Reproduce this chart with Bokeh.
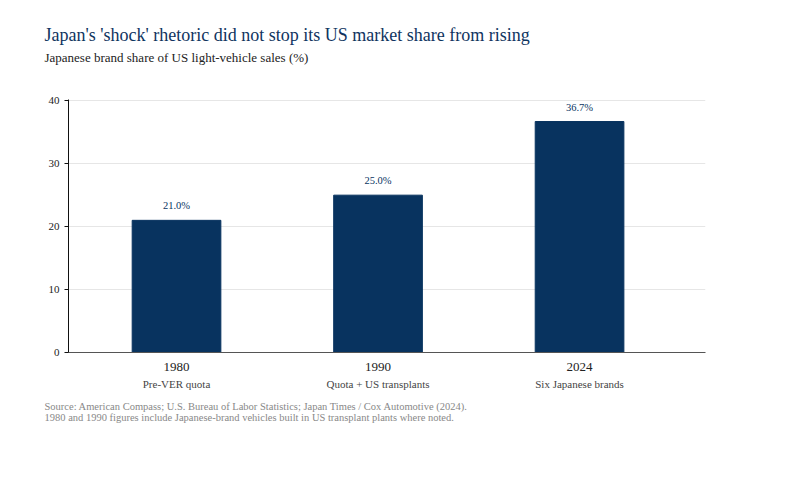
from bokeh.plotting import figure
from bokeh.models import (ColumnDataSource, LabelSet, Title, Range1d, FixedTicker,
                          LinearAxis)
from bokeh.embed import file_html
from bokeh.resources import INLINE

# данные
years = ["1980", "1990", "2024"]
notes = ["Pre-VER quota", "Quota + US transplants", "Six Japanese brands"]
share = [21.0, 25.0, 36.7]
y_ticks = [0, 10, 20, 30, 40]

font = "Liberation Serif"
navy = "#08335f"

idx = list(range(len(years)))
source = ColumnDataSource(data=dict(
    x=idx,
    share=share,
    label=["{:.1f}%".format(v) for v in share],
))

p = figure(title=None, frame_width=637, frame_height=253, x_range=Range1d(-0.536, 2.625),
           y_range=Range1d(0, 40.2), output_backend="svg", toolbar_location=None,
           tools="", min_border_left=68, min_border_right=79, min_border_bottom=20)

# столбцы
p.vbar(x="x", top="share", width=0.44, source=source, color=navy)

# подписи значений
labels = LabelSet(x="x", y="share", text="label", source=source, y_offset=9,
                  text_align="center", text_baseline="bottom",
                  text_font=font, text_font_size="10.5px", text_color=navy)
p.add_layout(labels)

# оси
p.xaxis.ticker = FixedTicker(ticks=idx)
p.xaxis.major_label_overrides = {i: y for i, y in zip(idx, years)}
p.xaxis.major_tick_line_color = None
p.xaxis.minor_tick_line_color = None
p.xaxis.axis_line_color = "#555555"
p.xaxis.major_label_text_font = font
p.xaxis.major_label_text_font_size = "13px"
p.xaxis.major_label_text_color = "#222222"
p.xaxis.major_label_standoff = 4

note_axis = LinearAxis(ticker=FixedTicker(ticks=idx),
                       major_label_overrides={i: n for i, n in zip(idx, notes)})
note_axis.axis_line_color = None
note_axis.major_tick_line_color = None
note_axis.minor_tick_line_color = None
note_axis.major_label_text_font = font
note_axis.major_label_text_font_size = "11px"
note_axis.major_label_text_color = "#444444"
note_axis.major_label_standoff = -2
p.add_layout(note_axis, "below")

p.yaxis.ticker = FixedTicker(ticks=y_ticks)
p.yaxis.minor_tick_line_color = None
p.yaxis.major_tick_in = 0
p.yaxis.major_tick_out = 4
p.yaxis.axis_line_color = "#111111"
p.yaxis.major_tick_line_color = "#111111"
p.yaxis.major_label_text_font = font
p.yaxis.major_label_text_font_size = "11px"
p.yaxis.major_label_text_color = "#222222"

p.xgrid.grid_line_color = None
p.ygrid.grid_line_color = "#e6e6e6"
p.outline_line_color = None

# шапка: отступ, подзаголовок, заголовок, отступ (от графика наружу)
p.add_layout(Title(text=" ", text_font=font, text_font_size="16px", standoff=12), "above")
p.add_layout(Title(text="Japanese brand share of US light-vehicle sales (%)",
                   align="left", offset=-24, text_font=font, text_font_size="13px",
                   text_font_style="normal", text_color="#222222", standoff=7), "above")
p.add_layout(Title(text="Japan's 'shock' rhetoric did not stop its US market share from rising",
                   align="left", offset=-24, text_font=font, text_font_size="18px",
                   text_font_style="normal", text_color="#0f3460", standoff=0), "above")
p.add_layout(Title(text=" ", text_font=font, text_font_size="16px", standoff=3), "above")

# источник
p.add_layout(Title(text="Source: American Compass; U.S. Bureau of Labor Statistics; Japan Times / Cox Automotive (2024).\n"
                        "1980 and 1990 figures include Japanese-brand vehicles built in US transplant plants where noted.",
                   align="left", offset=-24, text_font=font, text_font_size="10.5px",
                   text_font_style="normal", text_color="#888888", standoff=12), "below")

open("out.html", "w").write(file_html(p, INLINE))
